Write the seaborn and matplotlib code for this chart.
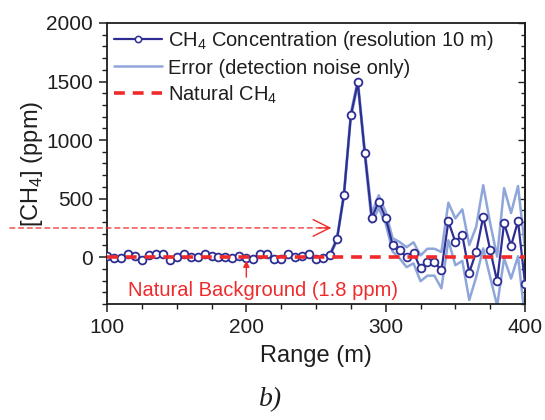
import matplotlib
matplotlib.use("Agg")
import matplotlib.pyplot as plt
import seaborn as sns
import pandas as pd
from matplotlib.ticker import MultipleLocator
from matplotlib.lines import Line2D

# ---------------- data ----------------
range_m = [100, 105, 110, 115, 120, 125, 130, 135, 140, 145,
           150, 155, 160, 165, 170, 175, 180, 185, 190, 195,
           200, 205, 210, 215, 220, 225, 230, 235, 240, 245,
           250, 255, 260, 265, 270, 275, 280, 285, 290, 295,
           300, 305, 310, 315, 320, 325, 330, 335, 340, 345,
           350, 355, 360, 365, 370, 375, 380, 385, 390, 395, 400]
ch4_ppm = [11, -6, -6, 23, 11, -28, 17, 31, 31, -20,
           0, 26, 3, 3, 23, 9, 3, 0, -6, 11,
           -6, -17, 28, 31, -17, -14, 23, 0, 9, 23,
           -17, -11, 18, 151, 528, 1210, 1492, 893, 336, 473,
           336, 105, 60, 0, 37, -95, -43, -43, -111, 305,
           131, 188, -131, 46, 345, 60, -205, 290, 97, 308, -225]
noise_err = [6, 7, 6, 8, 7, 6, 7, 8, 7, 6,
             7, 8, 6, 7, 8, 7, 6, 7, 8, 7,
             6, 7, 8, 7, 6, 7, 8, 7, 6, 7,
             8, 7, 8, 10, 15, 20, 20, 25, 40, 55,
             50, 57, 70, 85, 90, 110, 115, 115, 155, 160,
             200, 220, 235, 215, 270, 230, 210, 300, 280, 300, 300]
natural_ch4 = 1.8

labels = ["CH$_{\\mathregular{4}}$ Concentration (resolution 10 m)",
          "Error (detection noise only)",
          "Natural CH$_{\\mathregular{4}}$"]
x_label = "Range (m)"
y_label = "[CH$_{\\mathregular{4}}$] (ppm)"
annot_text = "Natural Background (1.8 ppm)"
panel_text = "b)"

df = pd.DataFrame({"Range": range_m, "CH4": ch4_ppm, "err": noise_err})
df["upper"] = df["CH4"] + df["err"]
df["lower"] = df["CH4"] - df["err"]
nat_df = pd.DataFrame({"Range": [range_m[0], range_m[-1]],
                       "CH4": [natural_ch4, natural_ch4]})

# ---------------- style ----------------
sns.set_style("ticks")
plt.rcParams["font.family"] = ["Liberation Sans", "DejaVu Sans"]
plt.rcParams["mathtext.fontset"] = "custom"
plt.rcParams["mathtext.rm"] = "Liberation Sans"

navy = "#2e2e92"
err_col = "#8ea6da"
red = "#f02a2a"
txt_col = "#1e1e1e"

fig = plt.figure(figsize=(5.45, 4.2), dpi=100)
ax = fig.add_axes([107 / 545, 1 - 304 / 420, (525 - 107) / 545, (304 - 23) / 420])


def new_lines(before):
    return ax.get_lines()[before:]


n0 = len(ax.get_lines())
sns.lineplot(data=df, x="Range", y="upper", color=err_col, lw=1.8, ax=ax)
sns.lineplot(data=df, x="Range", y="lower", color=err_col, lw=1.8, ax=ax)
for ln in new_lines(n0):
    ln.set_zorder(2)

n0 = len(ax.get_lines())
sns.lineplot(data=df, x="Range", y="CH4", color=navy, lw=1.6, ax=ax,
             marker="o", markersize=5.6, markerfacecolor="white",
             markeredgecolor=navy, markeredgewidth=1.3)
for ln in new_lines(n0):
    ln.set_zorder(3)

n0 = len(ax.get_lines())
sns.lineplot(data=nat_df, x="Range", y="CH4", color=red, lw=2.6, ax=ax)
for ln in new_lines(n0):
    ln.set_zorder(4)
    ln.set_dashes((3.0, 2.2))

ax.set_xlim(100, 400)
ax.set_ylim(-400, 2000)
ax.xaxis.set_major_locator(MultipleLocator(100))
ax.xaxis.set_minor_locator(MultipleLocator(25))
ax.yaxis.set_major_locator(MultipleLocator(500))
ax.yaxis.set_minor_locator(MultipleLocator(100))
ax.tick_params(which="major", direction="out", length=6, width=1.1,
               labelsize=15, colors=txt_col, pad=4)
ax.tick_params(which="minor", direction="out", length=3.5, width=1.0, colors=txt_col)
for sp in ax.spines.values():
    sp.set_visible(True)
    sp.set_linewidth(1.3)
    sp.set_color(txt_col)

sec = ax.secondary_yaxis("right")
sec.yaxis.set_major_locator(MultipleLocator(500))
sec.yaxis.set_minor_locator(MultipleLocator(100))
sec.tick_params(which="major", direction="in", length=5, width=1.0, labelright=False)
sec.tick_params(which="minor", direction="in", length=3, width=1.0)
sec.spines["right"].set_linewidth(1.3)

ax.set_xlabel(x_label, fontsize=17, color=txt_col, labelpad=6)
ax.set_ylabel(y_label, fontsize=17, color=txt_col, labelpad=1)

handles = [
    Line2D([], [], color=navy, lw=1.6, marker="o", markersize=4.5,
           markerfacecolor="white", markeredgecolor=navy, markeredgewidth=1.1),
    Line2D([], [], color=err_col, lw=1.8),
    Line2D([], [], color=red, lw=2.6, dashes=(3.0, 2.2)),
]
leg = ax.legend(handles, labels, loc="upper left", bbox_to_anchor=(-0.012, 1.02),
                frameon=False, fontsize=14.5, handlelength=2.4, handletextpad=0.3,
                labelspacing=0.3, borderaxespad=0.2, numpoints=1)
for t in leg.get_texts():
    t.set_color(txt_col)

# annotation of background level
ax.text(212, -285, annot_text, ha="center", va="center", color=red, fontsize=14.5)
ax.annotate("", xy=(200, -30), xytext=(200, -170),
            arrowprops=dict(arrowstyle="-|>", color=red, lw=1.0,
                            mutation_scale=9, shrinkA=0, shrinkB=0))

# dashed arrow from outside pointing to the plume
ax.annotate("", xy=(261, 250), xycoords="data",
            xytext=(0.018, 1 - 228 / 420), textcoords="figure fraction",
            arrowprops=dict(arrowstyle="-", color=red, lw=0.9, ls=(0, (4, 3)),
                            shrinkA=0, shrinkB=0),
            annotation_clip=False)
ax.annotate("", xy=(261, 250), xycoords="data",
            xytext=(252, 250), textcoords="data",
            arrowprops=dict(arrowstyle="->,head_length=0.6,head_width=0.3",
                            color=red, lw=1.0, mutation_scale=20,
                            shrinkA=0, shrinkB=0))

fig.text(0.497, 1 - 400 / 420, panel_text, ha="center", va="center",
         fontsize=20, style="italic", family=["Liberation Serif", "DejaVu Serif"],
         color=txt_col)

fig.savefig("out.png", dpi=100)
